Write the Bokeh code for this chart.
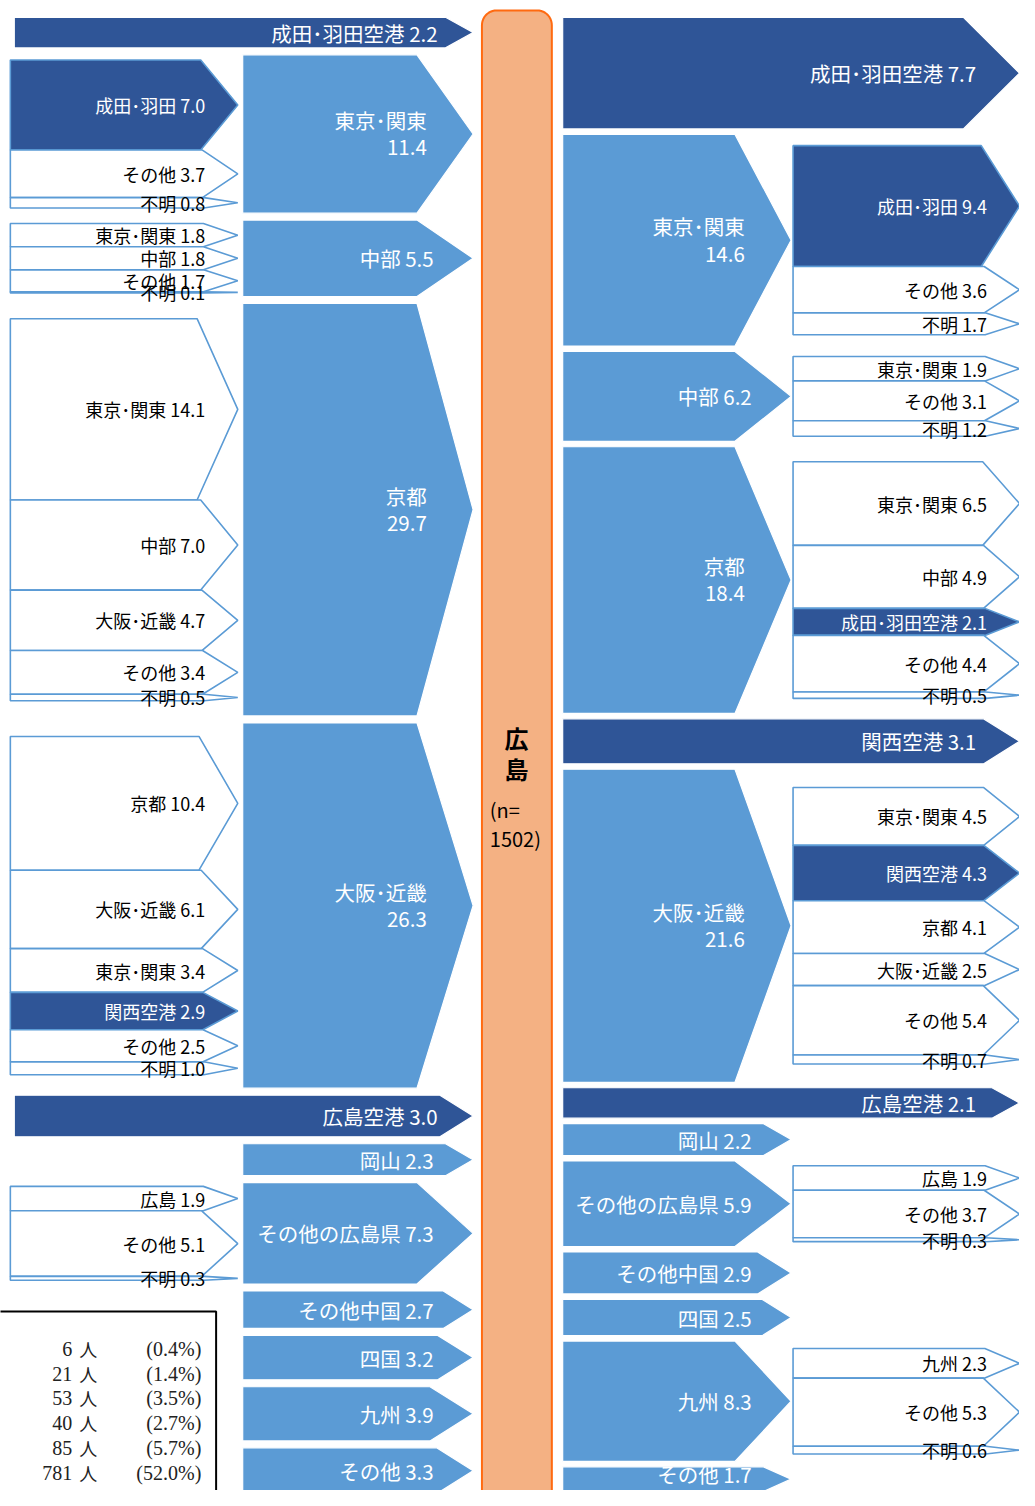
import numpy as np
from bokeh.plotting import figure
from bokeh.models import ColumnDataSource, Range1d
from bokeh.core.properties import value
from bokeh.embed import file_html
from bokeh.resources import INLINE

# ---------------- data ----------------
center_label = "広島"
center_n = 1502

left_names = ["成田･羽田空港", "東京･関東", "中部", "京都", "大阪･近畿", "広島空港",
              "岡山", "その他の広島県", "その他中国", "四国", "九州", "その他"]
left_values = [2.2, 11.4, 5.5, 29.7, 26.3, 3.0, 2.3, 7.3, 2.7, 3.2, 3.9, 3.3]

left_sub_parents = ["東京･関東", "中部", "京都", "大阪･近畿", "その他の広島県"]
left_sub_names = [["成田･羽田", "その他", "不明"],
                  ["東京･関東", "中部", "その他", "不明"],
                  ["東京･関東", "中部", "大阪･近畿", "その他", "不明"],
                  ["京都", "大阪･近畿", "東京･関東", "関西空港", "その他", "不明"],
                  ["広島", "その他", "不明"]]
left_sub_values = [[7.0, 3.7, 0.8],
                   [1.8, 1.8, 1.7, 0.1],
                   [14.1, 7.0, 4.7, 3.4, 0.5],
                   [10.4, 6.1, 3.4, 2.9, 2.5, 1.0],
                   [1.9, 5.1, 0.3]]

right_names = ["成田･羽田空港", "東京･関東", "中部", "京都", "関西空港", "大阪･近畿", "広島空港",
               "岡山", "その他の広島県", "その他中国", "四国", "九州", "その他"]
right_values = [7.7, 14.6, 6.2, 18.4, 3.1, 21.6, 2.1, 2.2, 5.9, 2.9, 2.5, 8.3, 1.7]

right_sub_parents = ["東京･関東", "中部", "京都", "大阪･近畿", "その他の広島県", "九州"]
right_sub_names = [["成田･羽田", "その他", "不明"],
                   ["東京･関東", "その他", "不明"],
                   ["東京･関東", "中部", "成田･羽田空港", "その他", "不明"],
                   ["東京･関東", "関西空港", "京都", "大阪･近畿", "その他", "不明"],
                   ["広島", "その他", "不明"],
                   ["九州", "その他", "不明"]]
right_sub_values = [[9.4, 3.6, 1.7],
                    [1.9, 3.1, 1.2],
                    [6.5, 4.9, 2.1, 4.4, 0.5],
                    [4.5, 4.3, 4.1, 2.5, 5.4, 0.7],
                    [1.9, 3.7, 0.3],
                    [2.3, 5.3, 0.6]]

airport_names = ["成田･羽田空港", "成田･羽田", "関西空港", "広島空港"]

legend_counts = [6, 21, 53, 40, 85, 781]
legend_pcts = [0.4, 1.4, 3.5, 2.7, 5.7, 52.0]

# ---------------- layout / style ----------------
W, H = 1019, 1490
FONT = "Noto Sans CJK JP"
BLUE = "#5b9bd5"
DARK = "#2f5597"
ORANGE_FILL = "#f4b183"
ORANGE_LINE = "#ff6a10"
K2 = 13.0
Y_LIMIT = 1489  # keep labels inside the visible frame

cols = {
    "left": dict(names=left_names, values=left_values,
                 sub_parents=left_sub_parents, sub_names=left_sub_names, sub_values=left_sub_values,
                 y0=17, k=14.04, gap=7, reg_x0=246, reg_tip=480, air_x0=14, air_tip=480,
                 sub_x0=10, sub_tip=241, air_lab=36),
    "right": dict(names=right_names, values=right_values,
                  sub_parents=right_sub_parents, sub_names=right_sub_names, sub_values=right_sub_values,
                  y0=17, k=14.65, gap=5.5, reg_x0=571, reg_tip=803, air_x0=571, air_tip=1035,
                  sub_x0=805, sub_tip=1035, air_lab=44),
}


def arrow(x0, tip, yt, yb, d):
    yc = (yt + yb) / 2
    return [x0, tip - d, tip, tip - d, x0], [yt, yt, yc, yb, yb]


p = figure(width=W, height=H, x_range=Range1d(0, 1035), y_range=Range1d(1506, 0),
           x_axis_location=None, y_axis_location=None, toolbar_location=None,
           output_backend="svg", min_border=0, outline_line_color=None,
           background_fill_color="white")
p.grid.visible = False

main_poly = dict(xs=[], ys=[], fill=[], line=[])
sub_poly = dict(xs=[], ys=[], fill=[], line=[])
t_main = dict(x=[], y=[], text=[], color=[])
t_sub = dict(x=[], y=[], text=[], color=[])

for side, c in cols.items():
    y = c["y0"]
    for name, v in zip(c["names"], c["values"]):
        h = v * c["k"]
        yt, yb = y, y + h
        yc = (yt + yb) / 2
        is_air = name in airport_names
        x0 = c["air_x0"] if is_air else c["reg_x0"]
        tip = c["air_tip"] if is_air else c["reg_tip"]
        d = min(57, max(28, 0.8 * h))
        xs, ys = arrow(x0, tip, yt, yb, d)
        main_poly["xs"].append(xs); main_poly["ys"].append(ys)
        main_poly["fill"].append(DARK if is_air else BLUE)
        main_poly["line"].append("white")
        if v >= 10:
            for txt, dy in ((name, -14), (f"{v:.1f}", 14)):
                t_main["x"].append(tip - 47); t_main["y"].append(yc + dy)
                t_main["text"].append(txt); t_main["color"].append("white")
        else:
            off = c["air_lab"] if is_air else 40
            t_main["x"].append(tip - off); t_main["y"].append(min(yc, Y_LIMIT))
            t_main["text"].append(f"{name} {v:.1f}"); t_main["color"].append("white")
        # children
        if name in c["sub_parents"]:
            i = c["sub_parents"].index(name)
            svals = c["sub_values"][i]
            snames = c["sub_names"][i]
            total = sum(svals) * K2
            sy = yc - total / 2
            for sn, sv in zip(snames, svals):
                sh = sv * K2
                syt, syb = sy, sy + sh
                s_air = sn in airport_names
                sd = min(42, 34 + 0.04 * sh)
                xs, ys = arrow(c["sub_x0"], c["sub_tip"], syt, syb, sd)
                sub_poly["xs"].append(xs); sub_poly["ys"].append(ys)
                sub_poly["fill"].append(DARK if s_air else "white")
                sub_poly["line"].append(BLUE)
                t_sub["x"].append(c["sub_tip"] - 33); t_sub["y"].append((syt + syb) / 2)
                t_sub["text"].append(f"{sn} {sv:.1f}")
                t_sub["color"].append("white" if s_air else "black")
                sy = syb
        y = yb + c["gap"]

# central box (rounded rectangle)
cx0, cx1, cy0, cy1, r = 489, 560, 10, 1530, 15
ang = np.linspace(0, np.pi / 2, 12)
bx = np.concatenate([cx0 + r - r * np.cos(ang), cx1 - r + r * np.sin(ang),
                     cx1 - r + r * np.cos(ang), cx0 + r - r * np.sin(ang)])
by = np.concatenate([cy0 + r - r * np.sin(ang), cy0 + r - r * np.cos(ang),
                     cy1 - r + r * np.sin(ang), cy1 - r + r * np.cos(ang)])
p.patch(bx, by, fill_color=ORANGE_FILL, line_color=ORANGE_LINE, line_width=2)

p.patches("xs", "ys", fill_color="fill", line_color="line", line_width=1.2,
          source=ColumnDataSource(main_poly))
p.patches("xs", "ys", fill_color="fill", line_color="line", line_width=1.6,
          source=ColumnDataSource(sub_poly))

p.text("x", "y", text="text", text_color="color", source=ColumnDataSource(t_main),
       text_font=value(FONT), text_font_size="20.5px", text_align="right", text_baseline="middle")
p.text("x", "y", text="text", text_color="color", source=ColumnDataSource(t_sub),
       text_font=value(FONT), text_font_size="18px", text_align="right", text_baseline="middle")

# center labels
p.text(x=[524, 524], y=[745, 776], text=list(center_label), text_font=value(FONT),
       text_font_size="24px", text_font_style="bold", text_align="center",
       text_baseline="middle", text_color="black")
p.text(x=[497, 497], y=[818, 847], text=["(n=", f"{center_n})"], text_font=value(FONT),
       text_font_size="20px", text_align="left", text_baseline="middle", text_color="black")

# legend-like box at bottom left
p.quad(left=[-10], right=[219], top=[1325], bottom=[1540], fill_color="white",
       line_color="black", line_width=2)
ly = [1363 + i * 25.0 for i in range(len(legend_counts))]
p.text(x=[73] * len(ly), y=ly, text=[str(cnt) for cnt in legend_counts],
       text_font=value("Liberation Serif"), text_font_size="20px", text_align="right",
       text_baseline="middle", text_color="#222222")
p.text(x=[80] * len(ly), y=ly, text=["人"] * len(ly),
       text_font=value("Noto Sans CJK JP"), text_font_size="18px", text_font_style="normal",
       text_align="left", text_baseline="middle", text_color="#222222")
p.text(x=[204] * len(ly), y=ly, text=[f"({pc:.1f}%)" for pc in legend_pcts],
       text_font=value("Liberation Serif"), text_font_size="20px", text_align="right",
       text_baseline="middle", text_color="#222222")

open("out.html", "w").write(file_html(p, INLINE))
